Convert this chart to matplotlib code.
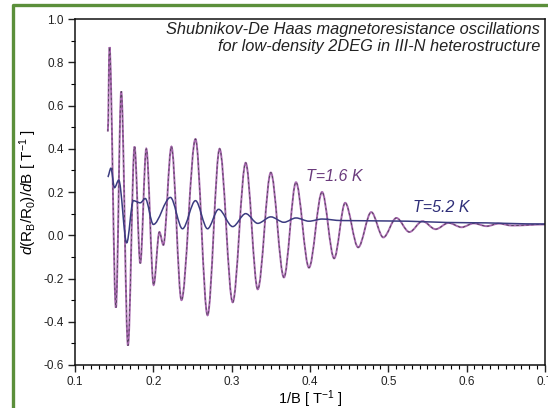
import matplotlib
matplotlib.use("Agg")
import matplotlib.pyplot as plt
from matplotlib.path import Path
from matplotlib.patches import PathPatch
from matplotlib.lines import Line2D
from matplotlib.ticker import MultipleLocator

plt.rcParams['font.family'] = ['Liberation Sans', 'DejaVu Sans']
plt.rcParams['mathtext.fontset'] = 'custom'
plt.rcParams['mathtext.rm'] = 'Liberation Sans'
plt.rcParams['mathtext.it'] = 'Liberation Sans:italic'

# ---- data (extrema of the traces) ----
inv_b_low_t = [0.1419, 0.1440, 0.1522, 0.1590, 0.1676, 0.1760, 0.1833, 0.1910,
               0.2004, 0.2077, 0.2128, 0.2231, 0.2359, 0.2538, 0.2692, 0.2846,
               0.3013, 0.3179, 0.3333, 0.3500, 0.3667, 0.3821, 0.3987, 0.4154,
               0.4308, 0.4449, 0.4615, 0.4782, 0.4936, 0.5103, 0.5269, 0.5436,
               0.5603, 0.5769, 0.5936, 0.6090, 0.6256, 0.6410, 0.6577, 0.7000]
dr_low_t = [0.48, 0.87, -0.335, 0.665, -0.51, 0.41, -0.13, 0.40,
            -0.23, 0.015, -0.045, 0.41, -0.30, 0.445, -0.37, 0.40,
            -0.31, 0.335, -0.25, 0.29, -0.195, 0.245, -0.15, 0.20,
            -0.107, 0.15, -0.056, 0.107, -0.01, 0.08, 0.015, 0.065,
            0.028, 0.057, 0.037, 0.055, 0.042, 0.054, 0.045, 0.05]

inv_b_high_t = [0.1417, 0.1458, 0.1504, 0.1558, 0.1660, 0.1744, 0.1833, 0.1897,
                0.2000, 0.2218, 0.2372, 0.2538, 0.2692, 0.2833, 0.3013, 0.3179,
                0.3333, 0.3500, 0.3667, 0.3821, 0.3987, 0.4154, 0.4400, 0.5000,
                0.6000, 0.7000]
dr_high_t = [0.27, 0.31, 0.22, 0.255, -0.035, 0.16, 0.15, 0.17,
             0.05, 0.175, 0.03, 0.16, 0.03, 0.12, 0.04, 0.10,
             0.055, 0.085, 0.06, 0.08, 0.065, 0.075, 0.068, 0.066,
             0.058, 0.052]

x_ticks = [0.1, 0.2, 0.3, 0.4, 0.5, 0.6, 0.7]
y_ticks = [-0.6, -0.4, -0.2, 0.0, 0.2, 0.4, 0.6, 0.8, 1.0]
label_low = "T=1.6 K"
label_high = "T=5.2 K"
title_text = ("Shubnikov-De Haas magnetoresistance oscillations\n"
              "for low-density 2DEG in III-N heterostructure")


def smooth_path(xs, ys):
    """Smooth (spline-like) connection of the read extrema, drawn in data coords."""
    verts = [(xs[0], ys[0])]
    codes = [Path.MOVETO]
    for i in range(len(xs) - 1):
        dx = xs[i + 1] - xs[i]
        verts += [(xs[i] + dx / 3, ys[i]), (xs[i + 1] - dx / 3, ys[i + 1]),
                  (xs[i + 1], ys[i + 1])]
        codes += [Path.CURVE4] * 3
    return Path(verts, codes)


fig = plt.figure(figsize=(5.48, 4.08), dpi=100)
ax = fig.add_axes([0.1369, 0.1054, 0.8576, 0.848])

purple = '#a868b0'
navy = '#3b3b80'

ax.add_patch(PathPatch(smooth_path(inv_b_low_t, dr_low_t), fill=False,
                       edgecolor=purple, lw=1.4, transform=ax.transData))
ax.add_patch(PathPatch(smooth_path(inv_b_low_t, dr_low_t), fill=False,
                       edgecolor='#4a4252', lw=0.6, linestyle=(0, (3, 3)),
                       transform=ax.transData))
ax.add_patch(PathPatch(smooth_path(inv_b_high_t, dr_high_t), fill=False,
                       edgecolor=navy, lw=1.1, transform=ax.transData))

ax.set_xlim(0.1, 0.7)
ax.set_ylim(-0.6, 1.0)
ax.set_xticks(x_ticks)
ax.set_xticklabels(["0.1", "0.2", "0.3", "0.4", "0.5", "0.6", "0.7"])
ax.set_yticks(y_ticks)
ax.set_yticklabels(["-0.6", "-0.4", "-0.2", "0.0", "0.2", "0.4", "0.6", "0.8", "1.0"])
ax.xaxis.set_minor_locator(MultipleLocator(0.01))
ax.yaxis.set_minor_locator(MultipleLocator(0.1))
ax.tick_params(which='major', direction='out', length=5, width=1, labelsize=8.5,
               colors='#222222', pad=3)
ax.tick_params(which='minor', direction='out', length=3, width=0.8)
ax.tick_params(top=False, right=False)
for s in ax.spines.values():
    s.set_linewidth(1.1)
    s.set_color('#111111')

ax.set_xlabel(r'1/B [ T$^{-1}$ ]', fontsize=10.5, labelpad=0)
ax.set_ylabel(r'$\mathit{d}$(R$_\mathrm{B}$/R$_0$)/$\mathit{d}$B [ T$^{-1}$ ]',
              fontsize=11, labelpad=3)

ax.text(0.99, 0.99, title_text, transform=ax.transAxes, ha='right', va='top',
        fontsize=11.8, style='italic', color='#222222', linespacing=1.1)
ax.text(0.431, 0.272, label_low, transform=ax.transData, fontsize=11.5,
        style='italic', color='#6a3a7c', ha='center', va='center')
ax.text(0.567, 0.128, label_high, transform=ax.transData, fontsize=11.5,
        style='italic', color='#2e2e78', ha='center', va='center')

# green frame around the figure (clipped at right/bottom like the source)
W, H = 548.0, 408.0
fig.add_artist(Line2D([13 / W, 13 / W, 1.0], [0.0, 1 - 5 / H, 1 - 5 / H],
                      transform=fig.transFigure, color='#5b8f3a', lw=2.4))

fig.savefig('out.png', dpi=100)
